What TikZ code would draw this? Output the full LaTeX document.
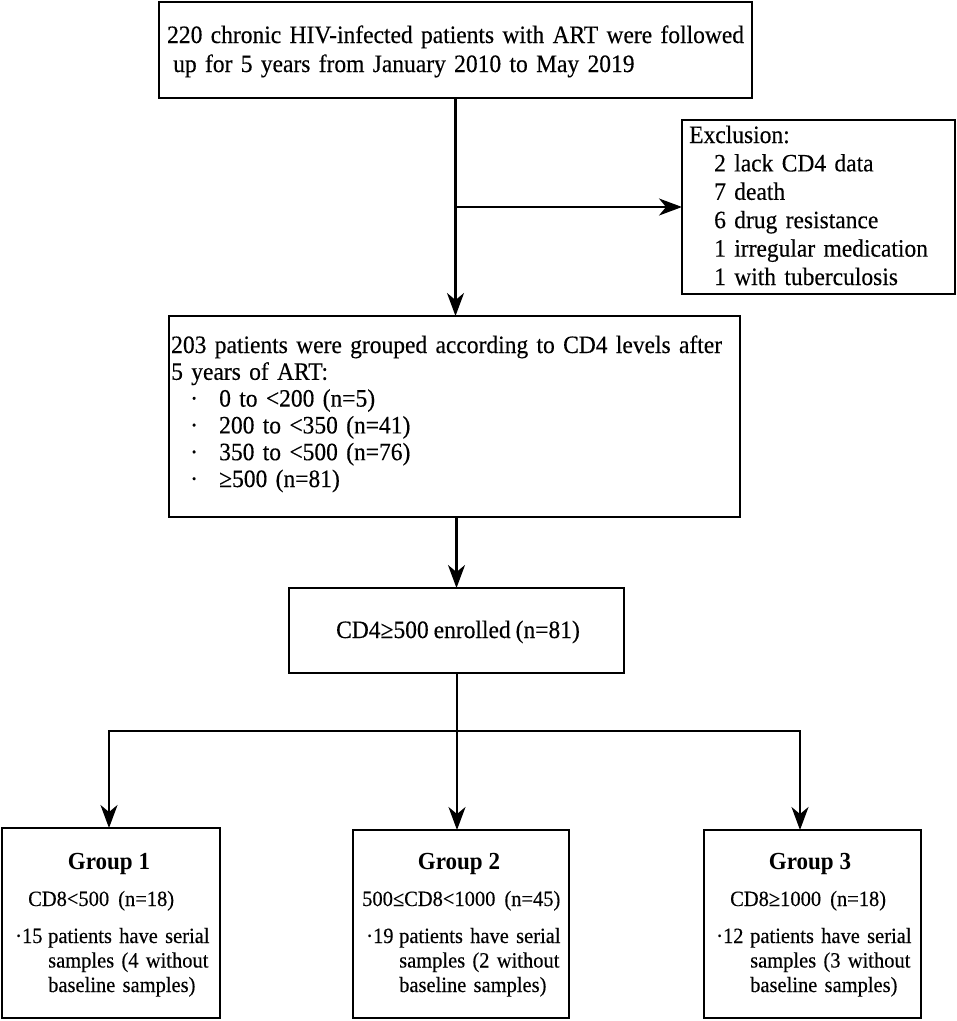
\documentclass[tikz,border=0pt]{standalone}
\usepackage{fontspec}
\setmainfont{Liberation Serif}
\newfontfamily\tallfont{Liberation Serif}[FakeStretch=0.94,FakeBold=0.3,WordSpace=0.85]
\newfontfamily\tallbold{Liberation Serif Bold}[FakeStretch=0.94]
\usetikzlibrary{arrows.meta}
\begin{document}
\begin{tikzpicture}[x=1pt,y=-1pt,
  box/.style={draw, line width=2.3pt, inner sep=0pt, outer sep=0pt},
  conn/.style={line width=2.1pt},
  arr/.style={line width=2.1pt, -{Stealth[length=23pt,width=17pt,inset=7pt]}},
  bigtxt/.style={inner sep=0pt, anchor=base west, align=left, text width=640pt, font=\tallfont\fontsize{25}{26.8}\selectfont},
  midtxt/.style={inner sep=0pt, anchor=base, font=\tallfont\fontsize{25}{26.8}\selectfont},
  grptitle/.style={inner sep=0pt, anchor=base, font=\tallbold\fontsize{24.5}{26}\selectfont},
  grptxt/.style={inner sep=0pt, anchor=base west, align=left, text width=230pt, font=\tallfont\fontsize{21.8}{24.5}\selectfont},
  grpline/.style={inner sep=0pt, anchor=base west, font=\tallfont\fontsize{21.8}{24.5}\selectfont}
]
\useasboundingbox (0,0) rectangle (957,1021);

% boxes
\node[box, minimum width=593, minimum height=96] (b1) at (455.5,50) {};
\node[box, minimum width=273, minimum height=174] (ex) at (818.5,207) {};
\node[box, minimum width=571, minimum height=201] (b2) at (454.5,416.5) {};
\node[box, minimum width=335, minimum height=85] (b3) at (456.5,630.5) {};
\node[box, minimum width=218, minimum height=190] (g1) at (111,923) {};
\node[box, minimum width=216, minimum height=188] (g2) at (461,924) {};
\node[box, minimum width=217, minimum height=188] (g3) at (812.5,924) {};

% texts
\node[bigtxt, font=\tallfont\fontsize{25}{29}\selectfont] (t1) at (167,43) {220 chronic HIV-infected patients with ART were followed\\\hspace*{6pt}up for 5 years from January 2010 to May 2019};
\node[bigtxt, text width=300pt, font=\tallfont\fontsize{25}{28.4}\selectfont] (tex) at (689,143) {Exclusion:\\
\hspace*{25pt}2 lack CD4 data\\
\hspace*{25pt}7 death\\
\hspace*{25pt}6 drug resistance\\
\hspace*{25pt}1 irregular medication\\
\hspace*{25pt}1 with tuberculosis};
\node[bigtxt] (t2) at (171,353) {203 patients were grouped according to CD4 levels after\\
5 years of ART:\\
\hspace*{19pt}\makebox[29pt][l]{·}0 to <200 (n=5)\\
\hspace*{19pt}\makebox[29pt][l]{·}200 to <350 (n=41)\\
\hspace*{19pt}\makebox[29pt][l]{·}350 to <500 (n=76)\\
\hspace*{19pt}\makebox[29pt][l]{·}≥500 (n=81)};
\node[midtxt] (t3) at (458,638) {CD4≥500 enrolled (n=81)};

\node[grptitle] (gt1) at (109,869) {Group 1};
\node[grpline] (gc1) at (28,906) {CD8<500\hspace{9pt}(n=18)};
\node[grptxt] (gs1) at (15,943) {\makebox[33pt][l]{·15}patients have serial\\\hspace*{33pt}samples (4 without\\\hspace*{33pt}baseline samples)};

\node[grptitle] (gt2) at (459,869) {Group 2};
\node[grpline] (gc2) at (362,906) {500≤CD8<1000\hspace{9pt}(n=45)};
\node[grptxt] (gs2) at (366,943) {\makebox[33pt][l]{·19}patients have serial\\\hspace*{33pt}samples (2 without\\\hspace*{33pt}baseline samples)};

\node[grptitle] (gt3) at (810,869) {Group 3};
\node[grpline] (gc3) at (730,906) {CD8≥1000\hspace{9pt}(n=18)};
\node[grptxt] (gs3) at (716,943) {\makebox[34pt][l]{·12}patients have serial\\\hspace*{34pt}samples (3 without\\\hspace*{34pt}baseline samples)};

% connectors
\coordinate (j1) at (b1.south |- ex.west);
\draw[arr] (b1.south) -- (b1.south |- b2.north);
\draw[arr] (j1) -- (ex.west);
\draw[arr] (b2.south -| b3.north) -- (b3.north);
\coordinate (j2) at (457,731);
\coordinate (c1) at (109,731);
\coordinate (c3) at (800,731);
\draw[conn] (b3.south -| j2) -- (j2);
\draw[conn] ([xshift=-1.05pt]c1) -- ([xshift=1.05pt]c3);
\draw[arr] (c1) -- (c1 |- g1.north);
\draw[arr] (j2) -- (j2 |- g2.north);
\draw[arr] (c3) -- (c3 |- g3.north);
\end{tikzpicture}
\end{document}
